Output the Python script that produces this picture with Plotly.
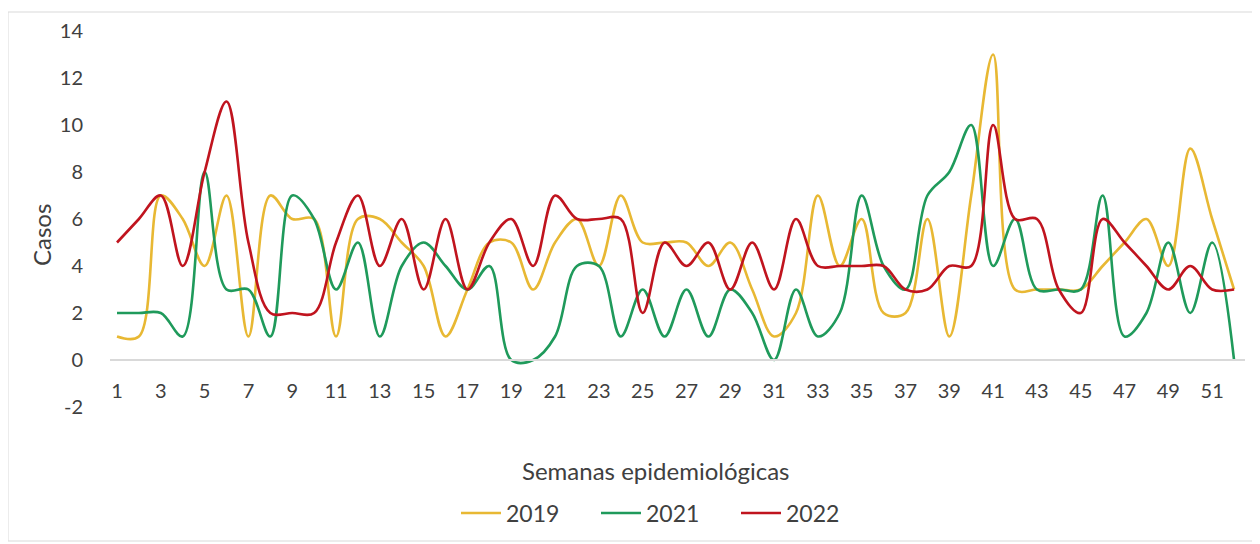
import plotly.graph_objects as go

weeks = list(range(1, 53))
tick_weeks = list(range(1, 53, 2))
y_ticks = [-2, 0, 2, 4, 6, 8, 10, 12, 14]
y_tick_labels = ["-2", "0", "2", "4", "6", "8", "10", "12", "14"]

cases_2019 = [1, 1, 7, 6, 4, 7, 1, 7, 6, 6,
              1, 6, 6, 5, 4, 1, 3, 5, 5, 3,
              5, 6, 4, 7, 5, 5, 5, 4, 5, 3,
              1, 2, 7, 4, 6, 2, 2, 6, 1, 7,
              13, 3, 3, 3, 3, 4, 5, 6, 4, 9,
              6, 3]
cases_2021 = [2, 2, 2, 1, 8, 3, 3, 1, 7, 6,
              3, 5, 1, 4, 5, 4, 3, 4, 0, 0,
              1, 4, 4, 1, 3, 1, 3, 1, 3, 2,
              0, 3, 1, 2, 7, 4, 3, 7, 8, 10,
              4, 6, 3, 3, 3, 7, 1, 2, 5, 2,
              5, 0]
cases_2022 = [5, 6, 7, 4, 8, 11, 5, 2, 2, 2,
              5, 7, 4, 6, 3, 6, 3, 5, 6, 4,
              7, 6, 6, 6, 2, 5, 4, 5, 3, 5,
              3, 6, 4, 4, 4, 4, 3, 3, 4, 4,
              10, 6, 6, 3, 2, 6, 5, 4, 3, 4,
              3, 3]

series = [
    ("2019", cases_2019, "#E8B833"),
    ("2021", cases_2021, "#1F9A5B"),
    ("2022", cases_2022, "#C0141E"),
]

# page offset from the default 8px body margin
OFF = 8
W, H = 1260 - OFF, 544 - OFF
# plot area in page pixels: left 110, right 1245, top 31, bottom 407
ML, MT = 110 - OFF, 31 - OFF
MR = W - (1245 - OFF)
MB = H - (407 - OFF)
PW, PH = W - ML - MR, H - MT - MB


def px_x(px):
    return (px - OFF - ML) / PW


def px_y(py):
    return 1 - (py - OFF - MT) / PH


fig = go.Figure()
for name, vals, color in series:
    fig.add_trace(go.Scatter(
        x=weeks, y=vals, name=name, mode="lines",
        line=dict(color=color, width=2.6, shape="spline", smoothing=1.0),
    ))

font_family = "Lato, 'Open Sans', sans-serif"
text_color = "#404040"
tick_font = dict(family=font_family, size=20, color=text_color)

ymin, ymax = -2, 14
zero_pos = (0 - ymin) / (ymax - ymin)

fig.update_layout(
    width=W, height=H,
    margin=dict(l=ML, r=MR, t=MT, b=MB, autoexpand=False),
    paper_bgcolor="white", plot_bgcolor="white",
    showlegend=True,
    legend=dict(orientation="h", xref="container", yref="container",
                x=(456 - OFF) / W, xanchor="left",
                y=1 - (513 - OFF) / H, yanchor="middle",
                font=dict(family=font_family, size=23, color=text_color),
                itemwidth=40, entrywidth=85, traceorder="normal"),
    xaxis=dict(range=[0.68, 52.5], tickvals=tick_weeks, ticktext=[str(w) for w in tick_weeks],
               anchor="free", position=zero_pos, automargin=False,
               showline=True, linecolor="#D9D9D9", linewidth=1.5,
               ticks="outside", ticklen=13, tickcolor="rgba(0,0,0,0)",
               showgrid=False, zeroline=False, tickfont=tick_font),
    yaxis=dict(range=[ymin, ymax], tickvals=y_ticks, ticktext=y_tick_labels,
               showgrid=False, zeroline=False, automargin=False,
               showline=False, ticks="outside", ticklen=22, tickcolor="rgba(0,0,0,0)",
               tickfont=tick_font),
    annotations=[
        dict(text="Semanas epidemiológicas", xref="paper", yref="paper",
             x=px_x(655), y=px_y(470), xanchor="center", yanchor="middle", showarrow=False,
             font=dict(family=font_family, size=24, color=text_color)),
        dict(text="Casos", xref="paper", yref="paper", textangle=-90,
             x=px_x(42), y=px_y(235), xanchor="center", yanchor="middle", showarrow=False,
             font=dict(family=font_family, size=24, color=text_color)),
    ],
    shapes=[dict(type="rect", xref="paper", yref="paper",
                 x0=px_x(8), x1=px_x(1257), y0=px_y(541), y1=px_y(12),
                 line=dict(color="#D9D9D9", width=1), fillcolor="rgba(0,0,0,0)", layer="below")],
)

fig.write_html("out.html")
